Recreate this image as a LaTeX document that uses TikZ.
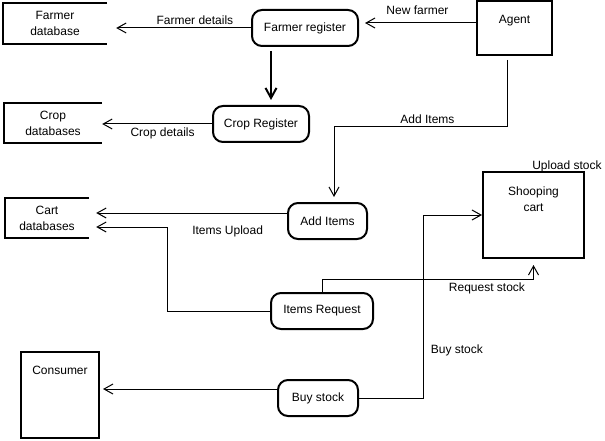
\documentclass[tikz,border=0pt]{standalone}
\usepackage{fontspec}
\setmainfont{Liberation Sans}
\usetikzlibrary{arrows.meta,calc}

\begin{document}
\begin{tikzpicture}[x=1pt,y=-1pt,font=\fontsize{12}{16}\selectfont,
  process/.style={draw,line width=2pt,rounded corners=10pt,align=center,inner sep=0pt},
  entity/.style={draw,line width=2pt,inner sep=0pt},
  store/.style={align=center,inner sep=0pt},
  storeline/.style={line width=2pt},
  inlabel/.style={anchor=north,yshift=-12pt,align=center},
  flow/.style={-{Straight Barb[length=9pt,width=10pt]},line width=1pt},
  bigflow/.style={-{Straight Barb[length=10pt,width=11pt]},line width=2pt}]
  \useasboundingbox (0,0) rectangle (605,441);

  % external entities
  \node[entity,minimum width=75pt,minimum height=54pt,label={[inlabel]north:Agent}] (agent) at (514.5,28) {};
  \node[entity,minimum width=101pt,minimum height=86pt,label={[inlabel]north:Shooping\\cart}] (cart) at (533.5,215) {};
  \node[entity,minimum width=78pt,minimum height=86pt,label={[inlabel]north:Consumer}] (consumer) at (60,395) {};

  % processes
  \node[process,minimum width=106pt,minimum height=36pt] (freg) at (305,28) {Farmer register};
  \node[process,minimum width=96pt,minimum height=36pt] (creg) at (261,124) {Crop Register};
  \node[process,minimum width=79pt,minimum height=36pt] (additems) at (327.5,221) {Add Items};
  \node[process,minimum width=102pt,minimum height=36pt] (itemreq) at (322,311) {Items Request};
  \node[process,minimum width=80pt,minimum height=36pt] (buy) at (318,398) {Buy stock};

  % data stores
  \node[store,minimum width=104pt,minimum height=41pt] (fdb) at (55,23.5) {Farmer\\database};
  \node[store,minimum width=98pt,minimum height=40pt] (cdb) at (53,123) {Crop\\databases};
  \node[store,minimum width=84pt,minimum height=40pt] (cartdb) at (47,218) {Cart\\databases};
  \foreach \s in {fdb,cdb,cartdb}
    \draw[storeline] (\s.north east) -| (\s.south west) -- (\s.south east);

  \node (upload) at (567,166) {Upload stock};

  % flows
  \coordinate (nf) at ([yshift=5pt]agent.west);
  \draw[flow,shorten >=6pt] (nf) -- (nf -| freg.east) node[above=5pt,pos=0.5] {New farmer};
  \draw[flow,shorten >=9pt] (freg.west) -- (freg.west -| fdb.east) node[above,pos=0.39] {Farmer details};
  \draw[bigflow,shorten <=4pt,shorten >=5pt] ([xshift=-34pt]freg.south) -- ([xshift=10pt]creg.north);
  \draw[flow] (creg.west) -- (creg.west -| cdb.east) node[below,pos=0.45] {Crop details};

  \draw[flow,shorten <=4pt,shorten >=5pt] ([xshift=-7.5pt]agent.south)
    |- ([xshift=6.5pt,yshift=75pt]additems.north) node[above,pos=0.73] {Add Items}
    -- ([xshift=6.5pt]additems.north);
  \coordinate (iu) at ([yshift=8pt]additems.west);
  \draw[flow,shorten >=7pt] (iu) -- (iu -| cartdb.east) node[below=9pt,pos=0.3] {Items Upload};
  \coordinate (rb) at ([xshift=-103pt,yshift=84pt]itemreq.west);
  \draw[flow,shorten >=7pt] (itemreq.west) -| (rb) -- (rb -| cartdb.east);

  \draw[flow,shorten >=6pt] (itemreq.north) |- ([yshift=-20pt]cart.south)
    node[below,pos=0.89] {Request stock} -- (cart.south);
  \draw[flow] (buy.east) -| ([xshift=-59pt]cart.west)
    node[right,pos=0.63,xshift=4pt] {Buy stock} -- (cart.west);
  \coordinate (bc) at ([yshift=9pt]buy.west);
  \draw[flow,shorten >=3pt] (bc) -- (bc -| consumer.east);
\end{tikzpicture}
\end{document}
